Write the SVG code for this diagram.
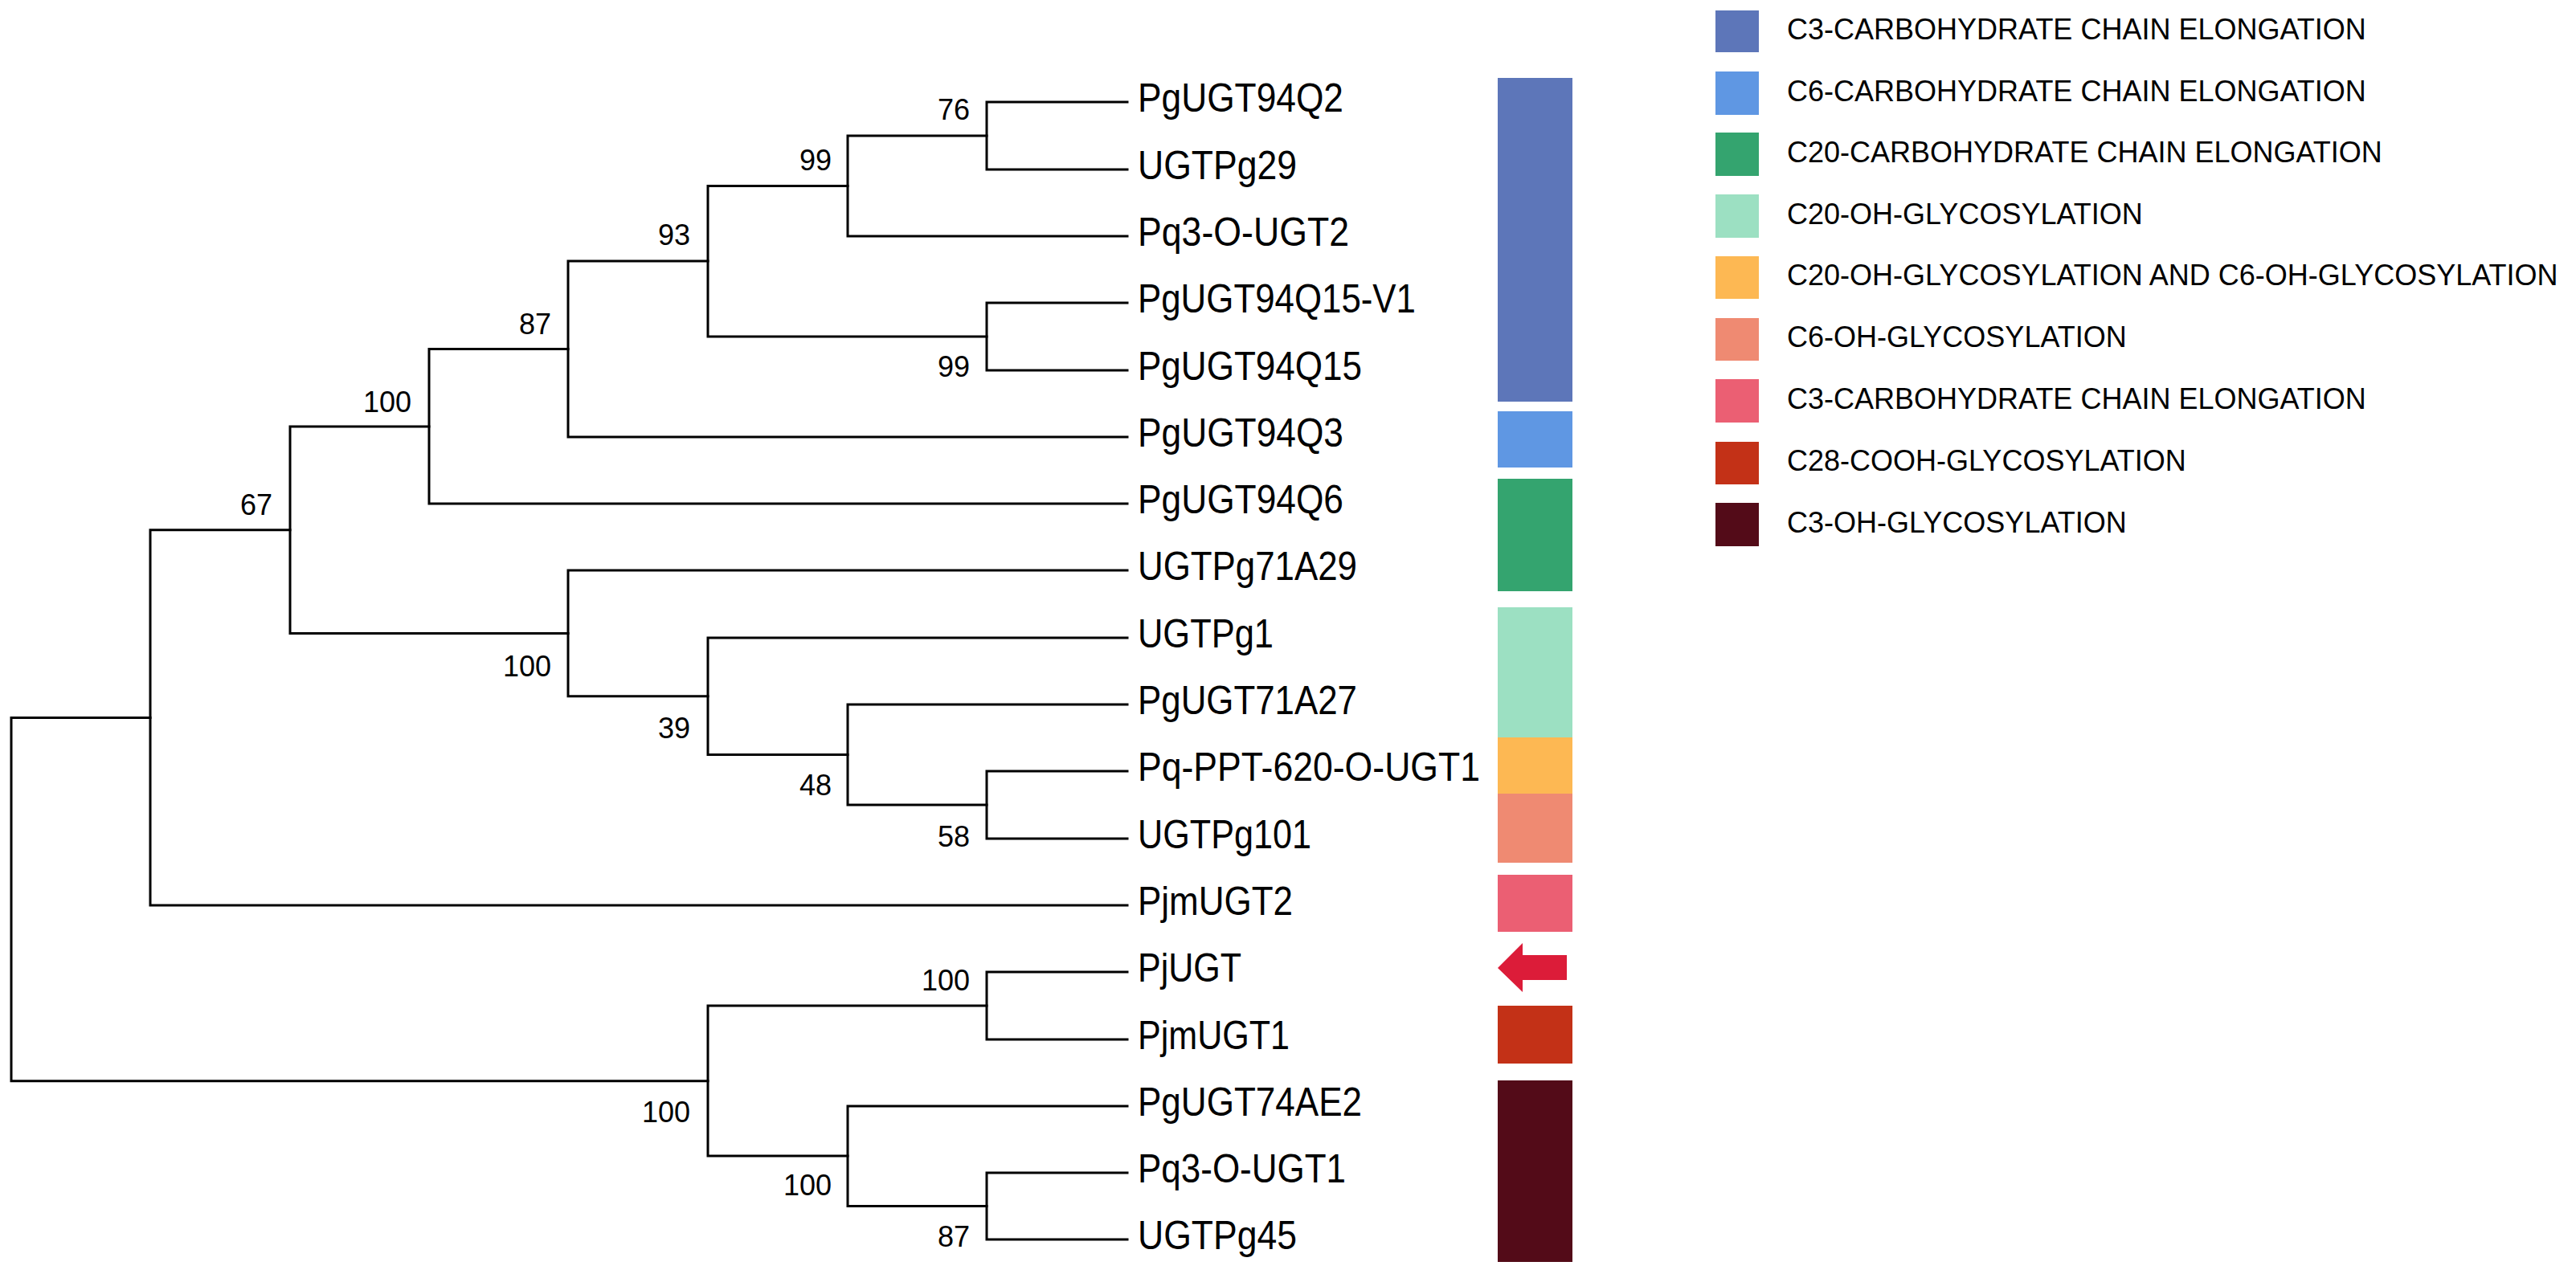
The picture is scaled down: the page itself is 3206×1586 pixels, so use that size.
<svg xmlns="http://www.w3.org/2000/svg" width="3206" height="1586" viewBox="0 0 3206 1586">
<style>
.br{fill:none;stroke:#000;stroke-width:3;stroke-linecap:square;stroke-linejoin:miter}
.lf{font-family:"Liberation Sans",Arial,sans-serif;font-size:50px;fill:#000}
.bs{font-family:"Liberation Sans",Arial,sans-serif;font-size:36px;fill:#000;text-anchor:end}
.lg{font-family:"Liberation Sans",Arial,sans-serif;font-size:36px;fill:#000}
</style>
<rect width="3206" height="1586" fill="#fff"/>
<g id="connectors">
<path class="br" d="M1403 127 H1228 V211 H1403"/>
<path class="br" d="M1228 169 H1055 V294 H1403"/>
<path class="br" d="M1403 377 H1228 V461 H1403"/>
<path class="br" d="M1055 231.5 H881 V419 H1228"/>
<path class="br" d="M881 325 H707 V544 H1403"/>
<path class="br" d="M707 434.5 H534 V627 H1403"/>
<path class="br" d="M1403 960 H1228 V1044 H1403"/>
<path class="br" d="M1403 877 H1055 V1002 H1228"/>
<path class="br" d="M1403 794 H881 V939.5 H1055"/>
<path class="br" d="M1403 710 H707 V866.7 H881"/>
<path class="br" d="M534 531 H361 V788.4 H707"/>
<path class="br" d="M361 659.7 H187 V1127 H1403"/>
<path class="br" d="M1403 1210 H1228 V1294 H1403"/>
<path class="br" d="M1403 1460 H1228 V1543 H1403"/>
<path class="br" d="M1403 1377 H1055 V1501.5 H1228"/>
<path class="br" d="M1228 1252 H881 V1439 H1055"/>
<path class="br" d="M187 893.4 H14 V1345.7 H881"/>
</g>
<g id="bootstrap">
<g id="n76"><text class="bs" x="1207" y="149">76</text></g>
<g id="n99a"><text class="bs" x="1035" y="212">99</text></g>
<g id="n99b"><text class="bs" x="1207" y="469">99</text></g>
<g id="n93"><text class="bs" x="859" y="305">93</text></g>
<g id="n87a"><text class="bs" x="686" y="416">87</text></g>
<g id="n100a"><text class="bs" x="512" y="513">100</text></g>
<g id="n58"><text class="bs" x="1207" y="1054">58</text></g>
<g id="n48"><text class="bs" x="1035" y="990">48</text></g>
<g id="n39"><text class="bs" x="859" y="919">39</text></g>
<g id="n100b"><text class="bs" x="686" y="842">100</text></g>
<g id="n67"><text class="bs" x="339" y="641">67</text></g>
<g id="n100c"><text class="bs" x="1207" y="1233">100</text></g>
<g id="n87b"><text class="bs" x="1207" y="1552">87</text></g>
<g id="n100d"><text class="bs" x="1035" y="1488">100</text></g>
<g id="n100e"><text class="bs" x="859" y="1397">100</text></g>
</g>
<g id="leaves">
<g id="leaf-PgUGT94Q2"><text class="lf" x="1416" y="139" textLength="256" lengthAdjust="spacingAndGlyphs">PgUGT94Q2</text></g>
<g id="leaf-UGTPg29"><text class="lf" x="1416" y="223" textLength="198" lengthAdjust="spacingAndGlyphs">UGTPg29</text></g>
<g id="leaf-Pq3-O-UGT2"><text class="lf" x="1416" y="306" textLength="263" lengthAdjust="spacingAndGlyphs">Pq3-O-UGT2</text></g>
<g id="leaf-PgUGT94Q15-V1"><text class="lf" x="1416" y="389" textLength="346" lengthAdjust="spacingAndGlyphs">PgUGT94Q15-V1</text></g>
<g id="leaf-PgUGT94Q15"><text class="lf" x="1416" y="473" textLength="279" lengthAdjust="spacingAndGlyphs">PgUGT94Q15</text></g>
<g id="leaf-PgUGT94Q3"><text class="lf" x="1416" y="556" textLength="256" lengthAdjust="spacingAndGlyphs">PgUGT94Q3</text></g>
<g id="leaf-PgUGT94Q6"><text class="lf" x="1416" y="639" textLength="256" lengthAdjust="spacingAndGlyphs">PgUGT94Q6</text></g>
<g id="leaf-UGTPg71A29"><text class="lf" x="1416" y="722" textLength="273" lengthAdjust="spacingAndGlyphs">UGTPg71A29</text></g>
<g id="leaf-UGTPg1"><text class="lf" x="1416" y="806" textLength="169" lengthAdjust="spacingAndGlyphs">UGTPg1</text></g>
<g id="leaf-PgUGT71A27"><text class="lf" x="1416" y="889" textLength="273" lengthAdjust="spacingAndGlyphs">PgUGT71A27</text></g>
<g id="leaf-Pq-PPT-620-O-UGT1"><text class="lf" x="1416" y="972" textLength="426" lengthAdjust="spacingAndGlyphs">Pq-PPT-620-O-UGT1</text></g>
<g id="leaf-UGTPg101"><text class="lf" x="1416" y="1056" textLength="216" lengthAdjust="spacingAndGlyphs">UGTPg101</text></g>
<g id="leaf-PjmUGT2"><text class="lf" x="1416" y="1139" textLength="193" lengthAdjust="spacingAndGlyphs">PjmUGT2</text></g>
<g id="leaf-PjUGT"><text class="lf" x="1416" y="1222" textLength="129" lengthAdjust="spacingAndGlyphs">PjUGT</text></g>
<g id="leaf-PjmUGT1"><text class="lf" x="1416" y="1306" textLength="189" lengthAdjust="spacingAndGlyphs">PjmUGT1</text></g>
<g id="leaf-PgUGT74AE2"><text class="lf" x="1416" y="1389" textLength="279" lengthAdjust="spacingAndGlyphs">PgUGT74AE2</text></g>
<g id="leaf-Pq3-O-UGT1"><text class="lf" x="1416" y="1472" textLength="259" lengthAdjust="spacingAndGlyphs">Pq3-O-UGT1</text></g>
<g id="leaf-UGTPg45"><text class="lf" x="1416" y="1555" textLength="198" lengthAdjust="spacingAndGlyphs">UGTPg45</text></g>
</g>
<g id="annotation-bars">
<rect x="1864" y="97" width="93" height="403" fill="#5D76B9"/>
<rect x="1864" y="512" width="93" height="70" fill="#5F97E3"/>
<rect x="1864" y="596" width="93" height="140" fill="#34A46F"/>
<rect x="1864" y="756" width="93" height="162" fill="#9CE0C2"/>
<rect x="1864" y="918" width="93" height="70" fill="#FDB853"/>
<rect x="1864" y="988" width="93" height="86" fill="#EF8A72"/>
<rect x="1864" y="1089" width="93" height="71" fill="#EB5F73"/>
<polygon points="1864,1205 1895,1174 1895,1189 1950,1189 1950,1220 1895,1220 1895,1235" fill="#DC1C39"/>
<rect x="1864" y="1252" width="93" height="72" fill="#C33117"/>
<rect x="1864" y="1345" width="93" height="226" fill="#530B18"/>
</g>
<g id="legend">
<g id="legend-1"><rect x="2135" y="13" width="54" height="52" fill="#5D76B9"/><text class="lg" x="2224" y="49">C3-CARBOHYDRATE CHAIN ELONGATION</text></g>
<g id="legend-2"><rect x="2135" y="89" width="54" height="54" fill="#5F97E3"/><text class="lg" x="2224" y="126">C6-CARBOHYDRATE CHAIN ELONGATION</text></g>
<g id="legend-3"><rect x="2135" y="165" width="54" height="54" fill="#34A46F"/><text class="lg" x="2224" y="202">C20-CARBOHYDRATE CHAIN ELONGATION</text></g>
<g id="legend-4"><rect x="2135" y="242" width="54" height="54" fill="#9CE0C2"/><text class="lg" x="2224" y="279">C20-OH-GLYCOSYLATION</text></g>
<g id="legend-5"><rect x="2135" y="319" width="54" height="53" fill="#FDB853"/><text class="lg" x="2224" y="355">C20-OH-GLYCOSYLATION AND C6-OH-GLYCOSYLATION</text></g>
<g id="legend-6"><rect x="2135" y="396" width="54" height="53" fill="#EF8A72"/><text class="lg" x="2224" y="432">C6-OH-GLYCOSYLATION</text></g>
<g id="legend-7"><rect x="2135" y="472" width="54" height="54" fill="#EB5F73"/><text class="lg" x="2224" y="509">C3-CARBOHYDRATE CHAIN ELONGATION</text></g>
<g id="legend-8"><rect x="2135" y="550" width="54" height="53" fill="#C33117"/><text class="lg" x="2224" y="586">C28-COOH-GLYCOSYLATION</text></g>
<g id="legend-9"><rect x="2135" y="626" width="54" height="54" fill="#530B18"/><text class="lg" x="2224" y="663">C3-OH-GLYCOSYLATION</text></g>
</g>
</svg>
